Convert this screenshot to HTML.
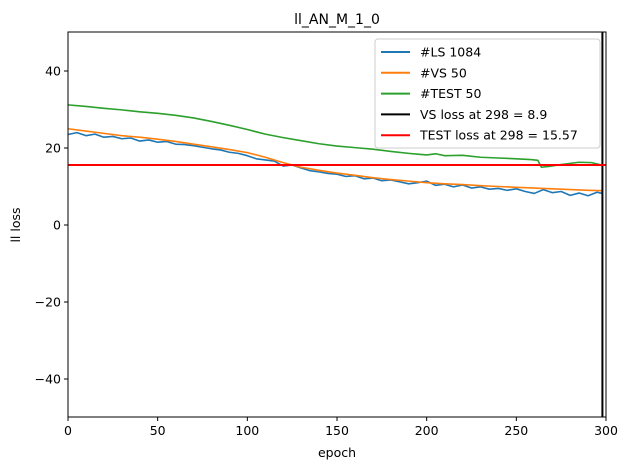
<!DOCTYPE html>
<html><head><meta charset="utf-8"><style>
body{margin:0;background:#fff}
svg{display:block;font-family:"DejaVu Sans","Liberation Sans",sans-serif}
</style></head><body>
<svg id="chart" width="630" height="470">
<text x="337" y="24" text-anchor="middle" font-size="14">ll_AN_M_1_0</text>
<text x="337" y="457" text-anchor="middle" font-size="12.5">epoch</text>
<text x="20" y="225" text-anchor="middle" font-size="12.5" transform="rotate(-90 20 225)">ll loss</text>
<g id="ticks"></g>
<g id="series"></g>
<rect x="68" y="32" width="538" height="385" fill="none" stroke="#000" stroke-width="1"/>
<g id="legend">
<rect x="375" y="39" width="225" height="109" rx="3" fill="#fff" fill-opacity="0.8" stroke="#ccc"/>
</g>
</svg>
<script>
const xTicks=[0,50,100,150,200,250,300];
const yTicks=[-40,-20,0,20,40];
const vsEpochs=[0,10,20,30,40,50,60,70,80,90,100,110,120,130,140,150,160,170,180,190,200,210,220,230,240,250,260,270,280,290,298];
const vsLoss=[25,24.4,23.8,23.2,22.8,22.3,21.7,21,20.3,19.6,18.8,17.6,16.2,15,14.2,13.5,12.9,12.3,11.8,11.4,11,10.7,10.5,10.2,10,9.8,9.6,9.4,9.2,9,8.9];
const testEpochs=[0,10,20,30,40,50,60,70,80,90,100,110,120,130,140,150,160,170,180,190,195,200,205,210,220,230,240,250,258,262,264,268,275,285,292,298];
const testLoss=[31.2,30.8,30.3,29.9,29.4,29,28.5,27.8,26.9,25.9,24.8,23.6,22.7,21.9,21.1,20.5,20.1,19.7,19.1,18.6,18.4,18.2,18.5,18,18.1,17.6,17.4,17.2,17,16.8,15,15.2,15.7,16.3,16.2,15.5];
const lsEpochs=[0,5,10,15,20,25,30,35,40,45,50,55,60,65,70,75,80,85,90,95,100,105,110,115,120,125,130,135,140,145,150,155,160,165,170,175,180,185,190,195,200,205,210,215,220,225,230,235,240,245,250,255,260,265,270,275,280,285,290,295,298];
const lsLoss=[23.5,24,23.2,23.6,22.8,23,22.4,22.6,21.8,22.1,21.5,21.7,21,20.9,20.6,20.2,19.8,19.5,18.9,18.6,18,17.2,16.9,16.6,15.3,15.6,14.8,14.1,13.8,13.4,13.2,12.6,12.8,12,12.2,11.5,11.7,11.2,10.7,11,11.4,10.3,10.6,9.9,10.4,9.6,9.9,9.3,9.5,9,9.4,8.7,8.2,9.2,8.4,8.7,7.7,8.3,7.6,8.5,8.2];
const vsBest=8.9, testBest=15.57, bestEpoch=298;
const NS="http://www.w3.org/2000/svg";
const X=v=>68+v*538/300, Y=v=>225-v*3.85;
const tk=document.getElementById('ticks'), sr=document.getElementById('series'), lg=document.getElementById('legend');
function mk(tag,at,parent){const e=document.createElementNS(NS,tag);for(const k in at)e.setAttribute(k,at[k]);parent.appendChild(e);return e;}
xTicks.forEach(t=>{
 const l=mk('line',{x1:X(t),x2:X(t),y1:417,y2:421,stroke:'#000'},tk);
 
 
 const s=mk('text',{x:X(t),y:435,'text-anchor':'middle','font-size':12.5},tk);s.textContent=t;
 
 
});
yTicks.forEach(t=>{
 const l=mk('line',{x1:64,x2:68,y1:Y(t),y2:Y(t),stroke:'#000'},tk);
 
 
 const s=mk('text',{x:61,y:Y(t)+4.5,'text-anchor':'end','font-size':12.5},tk);s.textContent=t<0?'\u2212'+(-t):t;
 
 
});
function line(xs,ys,color,name){
 const p=mk('polyline',{points:xs.map((x,i)=>X(x)+','+Y(ys[i])).join(' '),fill:'none',stroke:color,'stroke-width':1.6,'stroke-linejoin':'round'},sr);
 
 
}
line(testEpochs,testLoss,'#2ca02c','test-loss-line');
line(lsEpochs,lsLoss,'#1f77b4','ls-loss-line');
line(vsEpochs,vsLoss,'#ff7f0e','vs-loss-line');
const vl=mk('line',{x1:X(bestEpoch),x2:X(bestEpoch),y1:32,y2:417,stroke:'#000','stroke-width':2},sr);


const hl=mk('line',{x1:68,x2:606,y1:Y(testBest),y2:Y(testBest),stroke:'#ff0000','stroke-width':2},sr);


const entries=[['#1f77b4','#LS 1084'],['#ff7f0e','#VS 50'],['#2ca02c','#TEST 50'],['#000','VS loss at '+bestEpoch+' = '+vsBest],['#ff0000','TEST loss at '+bestEpoch+' = '+testBest]];
entries.forEach((e,i)=>{
 const y=52+i*20.8;
 const g=mk('g',{},lg);
 
 
 mk('line',{x1:381,x2:410,y1:y,y2:y,stroke:e[0],'stroke-width':2},g);
 const t=mk('text',{x:420,y:y+4.5,'font-size':12.5},g);t.textContent=e[1];
});
</script>
</body></html>
